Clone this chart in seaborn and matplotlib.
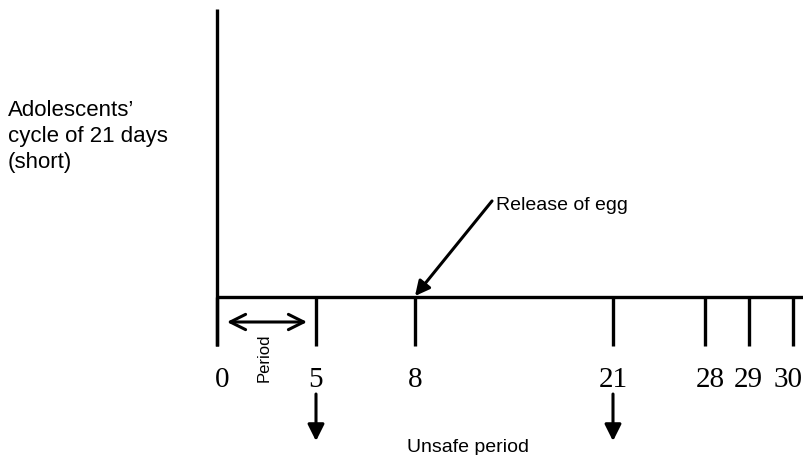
import matplotlib
matplotlib.use('Agg')
import matplotlib.pyplot as plt
import seaborn as sns

# data: days marked on the cycle line
days = [0, 5, 8, 21, 28, 29, 30]
day_labels = ['0', '5', '8', '21', '28', '29', '30']
egg_day = 8
period_days = (0, 5)
unsafe_days = [5, 21]

side_label = 'Adolescents\u2019\ncycle of 21 days\n(short)'
egg_label = 'Release of egg'
period_label = 'Period'
unsafe_label = 'Unsafe period'

# schematic (not to scale) spacing of the days along the line
slot_of_day = {0: 0, 5: 1, 8: 2, 21: 4, 28: 4.93, 29: 5.37, 30: 5.82}
# small horizontal nudges of the day numbers, as in the original drawing
label_nudge = {0: 0.05, 28: 0.05, 30: -0.05}


def main():
    sns.set_theme(style='white')
    plt.rcParams['font.family'] = ['Liberation Sans', 'DejaVu Sans']
    plt.rcParams['text.color'] = 'black'

    fig = plt.figure(figsize=(8.04, 4.56), dpi=100)
    ax = fig.add_axes([0, 0, 1, 1])
    ax.set_xlim(-217 / 99, (804 - 217) / 99)
    ax.set_ylim(-158 / 99, 298 / 99)
    ax.axis('off')

    lw = 2.4
    # vertical axis and cycle line
    ax.plot([0, 0], [2.91, -0.495], color='black', lw=lw, solid_capstyle='butt')
    ax.plot([0, 7], [0, 0], color='black', lw=lw, solid_capstyle='butt')

    xs = [slot_of_day[d] for d in days]
    ax.vlines(xs, -0.495, 0, color='black', lw=lw)
    for d, lab in zip(days, day_labels):
        x = slot_of_day[d] + label_nudge.get(d, 0)
        ax.text(x, -0.9, lab, ha='center', va='baseline', color='black',
                fontsize=21, family='Liberation Serif')

    ax.text(-2.111, 2.0, side_label, ha='left', va='top', fontsize=16,
            linespacing=1.3, color='black')

    # release of egg
    ex = slot_of_day[egg_day]
    ax.annotate('', xy=(ex, 0.01), xytext=(ex + 0.778, 0.97),
                arrowprops=dict(arrowstyle='-|>', lw=2.2, color='black',
                                mutation_scale=22, shrinkA=0, shrinkB=0))
    ax.text(ex + 0.818, 0.889, egg_label, ha='left', va='baseline',
            fontsize=14, color='black')

    # period double arrow
    p0, p1 = slot_of_day[period_days[0]], slot_of_day[period_days[1]]
    ax.annotate('', xy=(p1 - 0.09, -0.2525), xytext=(p0 + 0.1, -0.2525),
                arrowprops=dict(arrowstyle='<->,head_length=0.5,head_width=0.25',
                                lw=2.2, color='black', mutation_scale=22,
                                shrinkA=0, shrinkB=0))
    ax.text(0.475, -0.601, period_label, rotation=90, ha='center', va='center',
            fontsize=12, color='black')

    # unsafe period arrows
    for d in unsafe_days:
        x = slot_of_day[d]
        ax.annotate('', xy=(x, -1.455), xytext=(x, -0.98),
                    arrowprops=dict(arrowstyle='-|>', lw=2.2, color='black',
                                    mutation_scale=25, shrinkA=0, shrinkB=0))
    ax.text(2.535, -1.556, unsafe_label, ha='center', va='baseline',
            fontsize=14, color='black')

    fig.savefig('out.png', dpi=100, facecolor='white')
    plt.close(fig)


if __name__ == '__main__':
    main()
